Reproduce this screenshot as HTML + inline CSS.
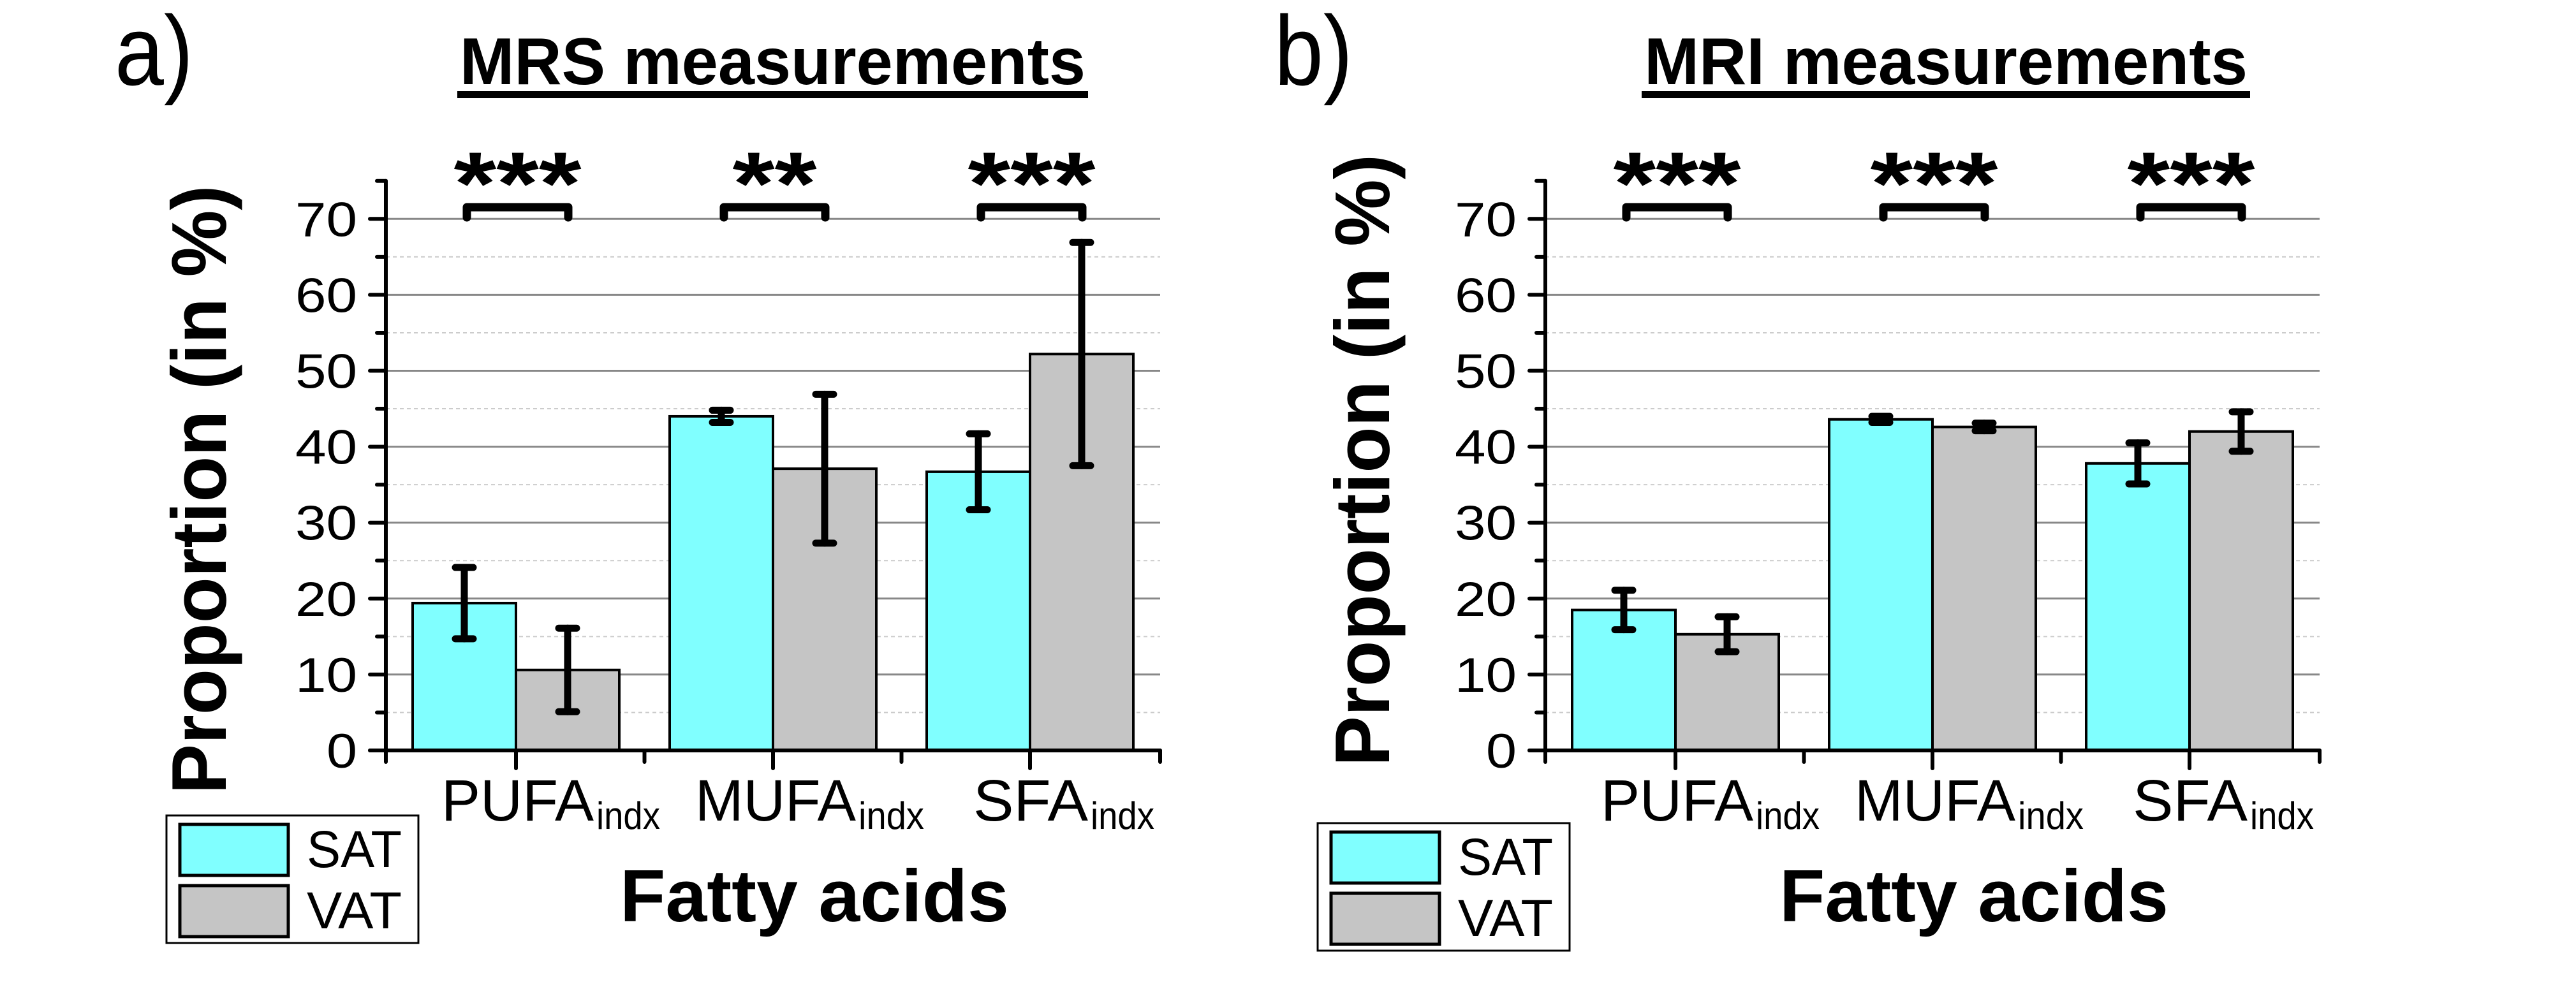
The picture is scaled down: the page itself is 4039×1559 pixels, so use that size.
<!DOCTYPE html>
<html><head><meta charset="utf-8"><style>
html,body{margin:0;padding:0;background:#fff;}
svg{display:block;}
text{font-family:"Liberation Sans",Arial,sans-serif;fill:#000;}
</style></head><body>
<svg id="fig" width="4039" height="1559" viewBox="0 0 4039 1559" xmlns="http://www.w3.org/2000/svg"></svg>
<script>
const categories = ["PUFA","MUFA","SFA"];
const yTicks = [0,10,20,30,40,50,60,70];
const mrsSAT = [19.4, 44.0, 36.7];
const mrsSATerr = [4.7, 0.8, 5.0];
const mrsVAT = [10.6, 37.1, 52.2];
const mrsVATerr = [5.5, 9.8, 14.7];
const mriSAT = [18.5, 43.6, 37.8];
const mriSATerr = [2.6, 0.4, 2.7];
const mriVAT = [15.3, 42.6, 42.0];
const mriVATerr = [2.3, 0.5, 2.6];
const mrsStars = ["***","**","***"];
const mriStars = ["***","***","***"];

const NS="http://www.w3.org/2000/svg";
const svg=document.getElementById('fig');
function mk(tag,attrs,parent){const e=document.createElementNS(NS,tag);for(const k in attrs)e.setAttribute(k,attrs[k]);(parent||svg).appendChild(e);return e;}

function panel(ox, letter, title, titleX, titleW, sat, satE, vat, vatE, stars, ylab, leg){
  const g=mk('g',{});
  
  
  const x0=605+ox, x1=1819+ox, y0=1177, k=11.91;
  const yS=v=>y0-v*k;
  const catW=403;
  const catX=i=>x0+204+i*catW;
  const lt=mk('text',{x:180+ox,y:133,'font-size':155,textLength:123,lengthAdjust:'spacingAndGlyphs'},g);
  lt.textContent=letter+')';
  
  
  const tt=mk('text',{x:titleX,y:132,'font-size':104,'font-weight':'bold',textLength:titleW,lengthAdjust:'spacingAndGlyphs'},g);
  tt.textContent=title;
  
  
  const ul=mk('rect',{x:titleX-4,y:143,width:titleW+8,height:11,fill:'#000'},g);
  
  
  for(let v=5; v<=70; v+=5){
    const y=yS(v);
    const gl=mk('line',{x1:x0,x2:x1,y1:y,y2:y,stroke:v%10===0?'#888':'#ccc','stroke-width':v%10===0?3:2,'stroke-dasharray':v%10===0?'none':'6 5'},g);
    
    
  }
  const bw=162;
  for(let i=0;i<categories.length;i++){
    const c=catX(i);
    [[sat,'#80ffff',c-bw,'sat'],[vat,'#c5c5c5',c,'vat']].forEach(([vals,col,bx,nm])=>{
      const r=mk('rect',{x:bx,y:yS(vals[i]),width:bw,height:vals[i]*k,fill:col,stroke:'#000','stroke-width':4},g);
      
      
    });
  }
  for(let i=0;i<categories.length;i++){
    const c=catX(i);
    [[sat,satE,c-bw/2,'sat'],[vat,vatE,c+bw/2,'vat']].forEach(([vals,errs,cx,nm])=>{
      const eg=mk('g',{stroke:'#000','stroke-width':11,'stroke-linecap':'round'},g);
      
      
      const hi=yS(vals[i]+errs[i]), lo=yS(vals[i]-errs[i]);
      mk('line',{x1:cx,x2:cx,y1:hi,y2:lo},eg);
      mk('line',{x1:cx-14,x2:cx+14,y1:hi,y2:hi},eg);
      mk('line',{x1:cx-14,x2:cx+14,y1:lo,y2:lo},eg);
    });
    const bx1=c-bw/2+4, bx2=c+bw/2+1;
    const br=mk('path',{d:`M${bx1} 341 L${bx1} 325 L${bx2} 325 L${bx2} 341`,fill:'none',stroke:'#000','stroke-width':13,'stroke-linecap':'round','stroke-linejoin':'round'},g);
    
    
    const n=stars[i].length;
    const st=mk('text',{x:(bx1+bx2)/2,y:336,'font-size':140,'font-weight':'bold','text-anchor':'middle',textLength:n*68-4,lengthAdjust:'spacingAndGlyphs'},g);
    st.textContent=stars[i];
    
    
  }
  const ax=mk('g',{stroke:'#000','stroke-width':6,'stroke-linecap':'round'},g);
  
  
  mk('line',{x1:x0,x2:x0,y1:yS(75),y2:y0+18},ax);
  mk('line',{x1:x0-25,x2:x1,y1:y0,y2:y0},ax);
  for(let v=0; v<=75; v+=5){
    const y=yS(v);
    if(v%10===0) mk('line',{x1:x0-25,x2:x0,y1:y,y2:y},ax);
    else mk('line',{x1:x0-14,x2:x0,y1:y,y2:y},ax);
  }
  for(let i=0;i<categories.length;i++){
    mk('line',{x1:catX(i),x2:catX(i),y1:y0,y2:y0+28},ax);
    if(i<categories.length-1) mk('line',{x1:catX(i)+catW/2,x2:catX(i)+catW/2,y1:y0,y2:y0+18},ax);
  }
  mk('line',{x1:x1,x2:x1,y1:y0,y2:y0+18},ax);
  yTicks.forEach(v=>{
    const t=mk('text',{x:x0-45,y:yS(v)+27,'font-size':76,'text-anchor':'end',textLength:v===0?48:97,lengthAdjust:'spacingAndGlyphs'},g);
    t.textContent=String(v);
    
    
  });
  const mainW=[239,252,180], subW=[100,103,100];
  const startOff=[-117,-122,-89];
  for(let i=0;i<categories.length;i++){
    const sx=catX(i)+startOff[i];
    const t=mk('text',{x:sx,y:1287,'font-size':92,textLength:mainW[i],lengthAdjust:'spacingAndGlyphs'},g);
    t.textContent=categories[i];
    
    
    const s=mk('text',{x:sx+mainW[i]+4,y:1300,'font-size':60,textLength:subW[i],lengthAdjust:'spacingAndGlyphs'},g);
    s.textContent='indx';
    
    
  }
  const xt=mk('text',{x:972+ox,y:1445,'font-size':116,'font-weight':'bold',textLength:610,lengthAdjust:'spacingAndGlyphs'},g);
  xt.textContent='Fatty acids';
  
  
  const yt=mk('text',{x:0,y:0,'font-size':122,'font-weight':'bold','text-anchor':'middle',textLength:ylab.len,lengthAdjust:'spacingAndGlyphs',transform:`translate(${ylab.x},${ylab.cy}) rotate(-90)`},g);
  yt.textContent='Proportion (in %)';
  
  
  const lg=mk('g',{},g);
  
  
  mk('rect',{x:leg.x,y:leg.y,width:395,height:200,fill:'#fff',stroke:'#000','stroke-width':3},lg);
  [['SAT','#80ffff',0],['VAT','#c5c5c5',96]].forEach(([lab,col,dy])=>{
    const e=mk('g',{},lg);
    
    
    mk('rect',{x:leg.x+21,y:leg.y+14+dy,width:170,height:80,fill:col,stroke:'#000','stroke-width':5},e);
    const t=mk('text',{x:leg.x+220,y:leg.y+81+dy,'font-size':82,textLength:149,lengthAdjust:'spacingAndGlyphs'},e);
    t.textContent=lab;
  });
}
panel(0,'a','MRS measurements',721,981,mrsSAT,mrsSATerr,mrsVAT,mrsVATerr,mrsStars,{x:354,cy:768,len:955},{x:261,y:1279});
panel(1818,'b','MRI measurements',2578,946,mriSAT,mriSATerr,mriVAT,mriVATerr,mriStars,{x:2178,cy:722,len:960},{x:2066,y:1291});
</script>
</body></html>
